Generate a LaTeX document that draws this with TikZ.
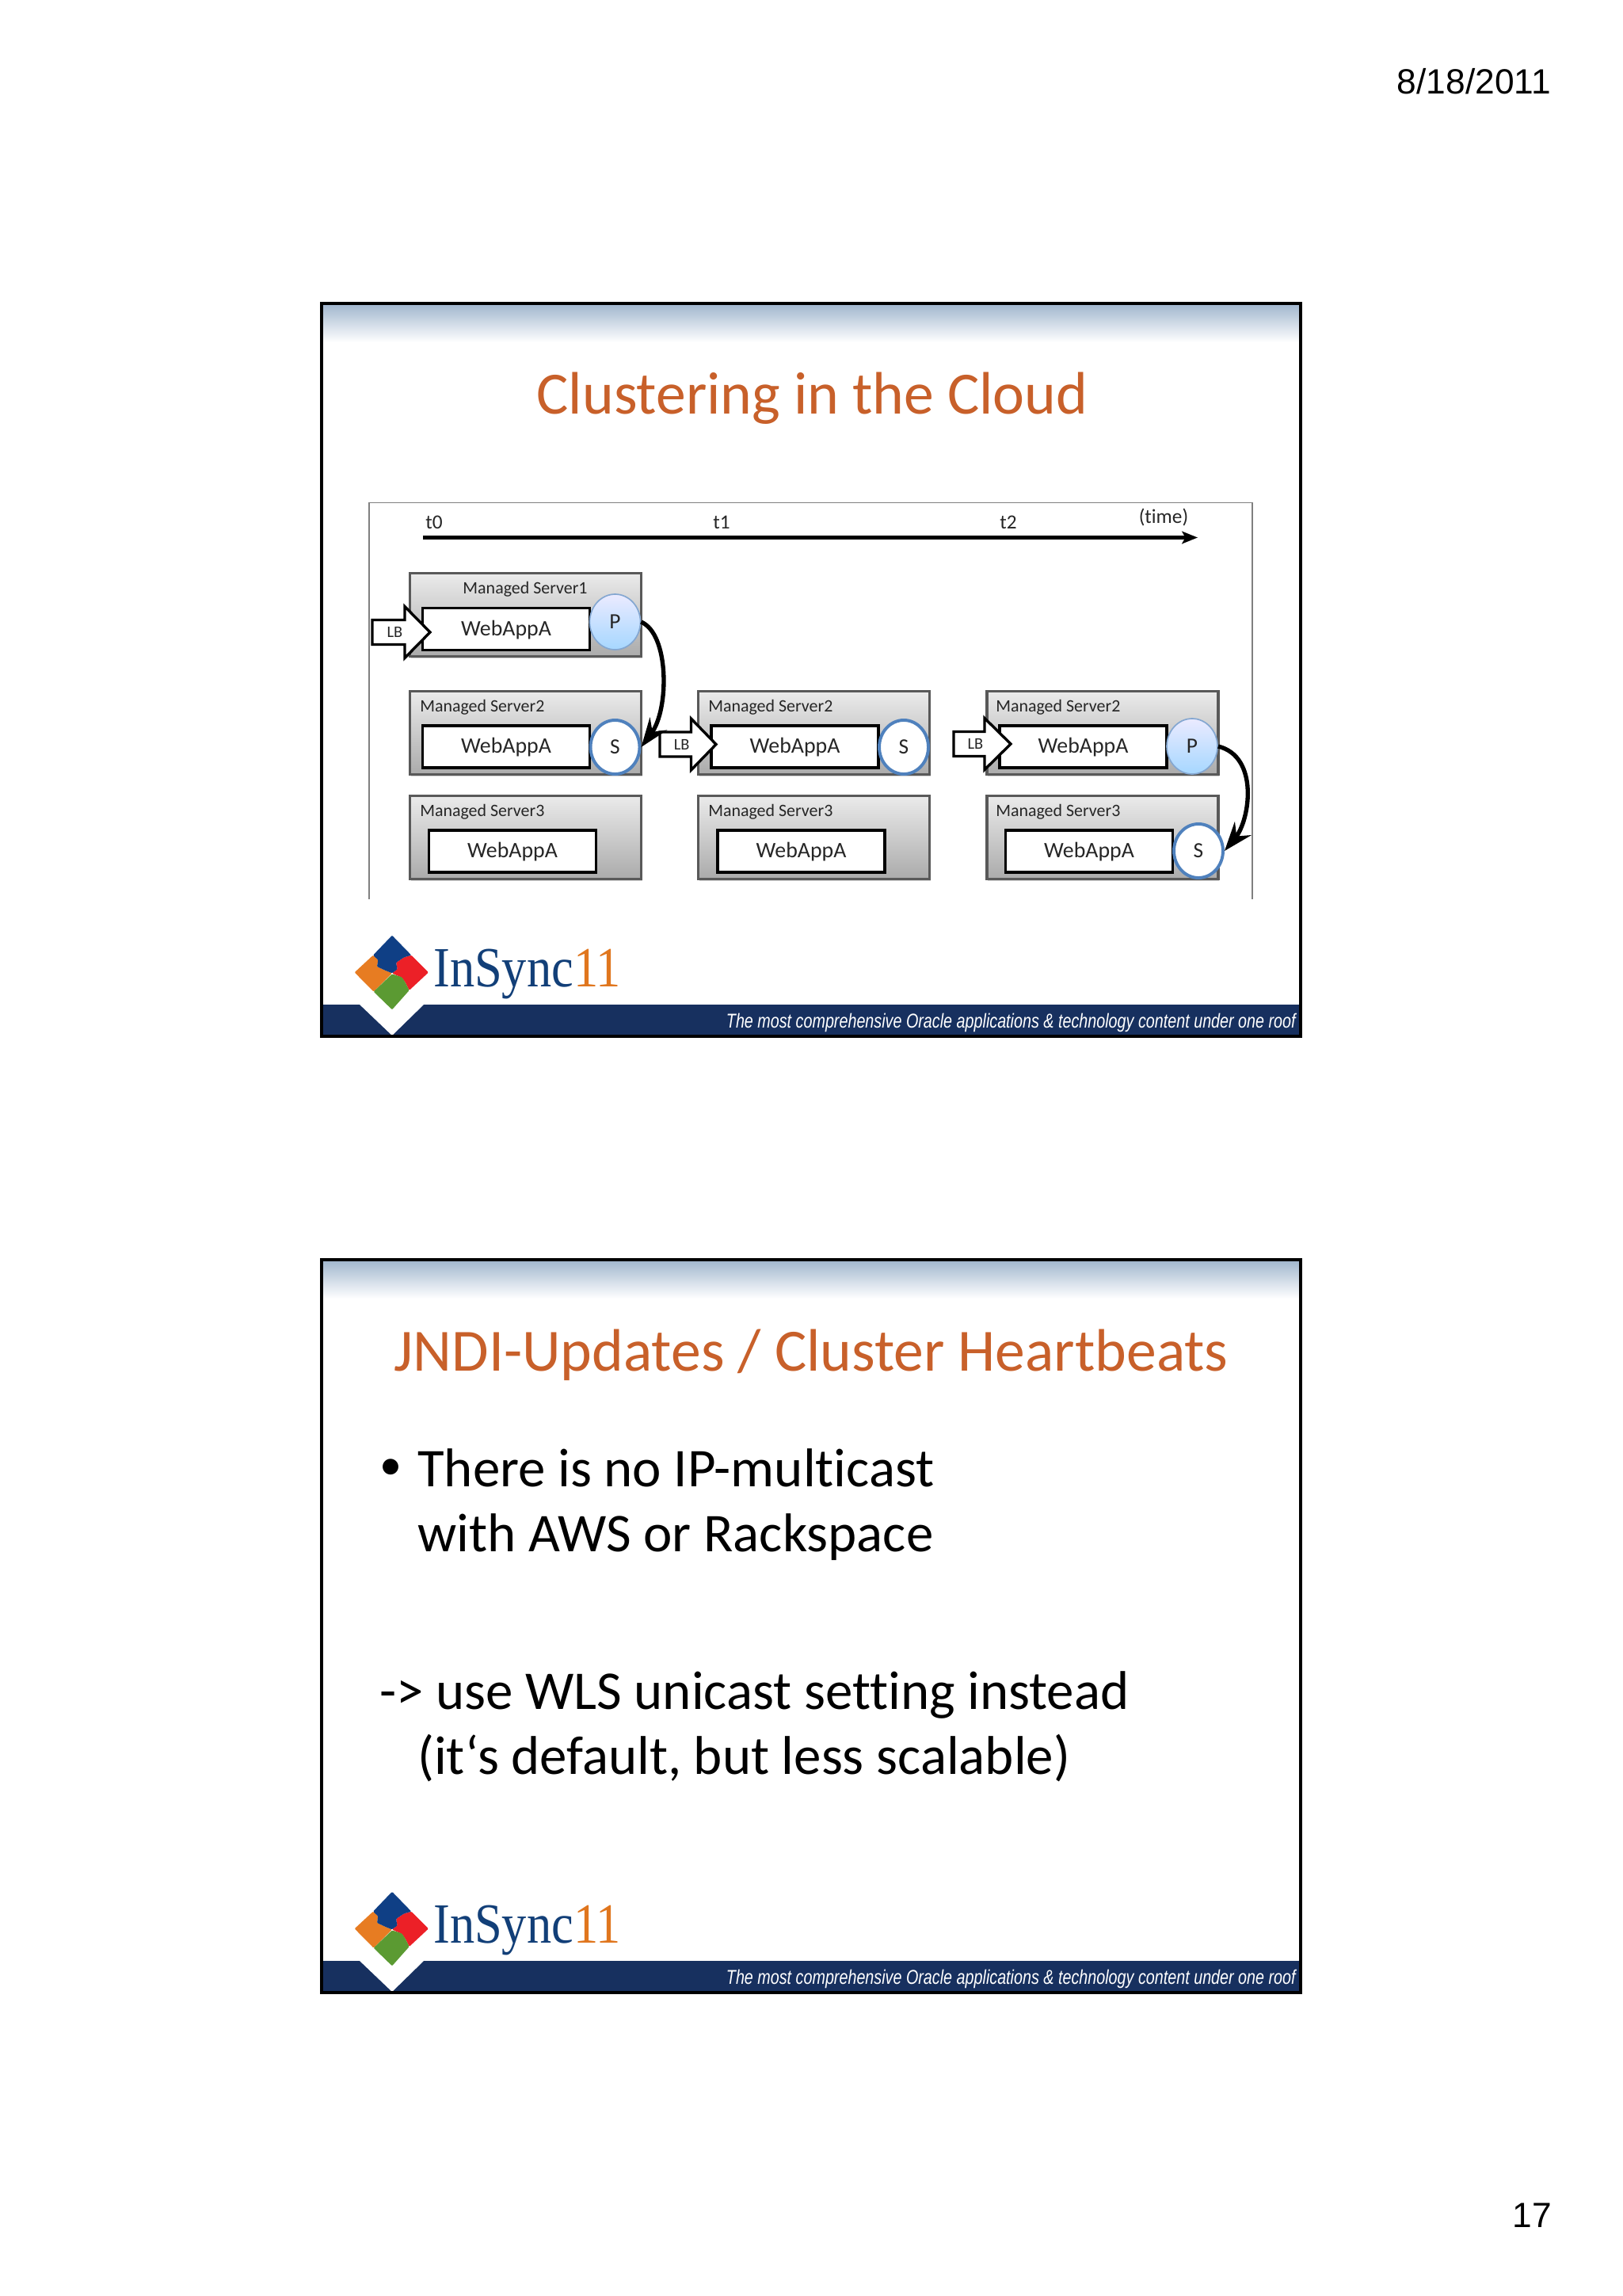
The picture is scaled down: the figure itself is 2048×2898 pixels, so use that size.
\documentclass[tikz,border=0pt]{standalone}
\usepackage{fontspec}
\setmainfont[RawFeature={-liga;-clig}]{Carlito}
\newfontfamily\arialf{Liberation Sans}
\newfontfamily\serifl{Liberation Serif}
\usetikzlibrary{arrows.meta,shadows,shapes.geometric}
\definecolor{titleor}{HTML}{C8602A}
\definecolor{navy}{HTML}{17305F}
\definecolor{bandtop}{HTML}{A3B8CF}
\definecolor{logoblue}{HTML}{0F3F85}
\definecolor{logoor}{HTML}{E77C22}
\definecolor{logored}{HTML}{EC2027}
\definecolor{logogreen}{HTML}{5B9A32}
\definecolor{textnavy}{HTML}{123F78}
\definecolor{elev}{HTML}{E0761E}
\definecolor{ringblue}{HTML}{4F81BD}
\def\pu{0.025cm}
\tikzset{
  x=0.025cm,y=-0.025cm,
  server/.style={draw=black!65,line width=2.4pt,anchor=north west,outer sep=0pt,minimum width=292*\pu,minimum height=105*\pu,inner sep=0pt,
    top color=black!8,bottom color=black!33,drop shadow={shadow xshift=1pt,shadow yshift=-1.5pt,opacity=.35}},
  srvlabel/.style={font=\fontsize{15.6}{18}\selectfont,text=black!85,inner sep=0pt},
  app/.style={draw=black,line width=2.4pt,fill=white,minimum height=53*\pu,inner sep=0pt,text height=15pt,text depth=3pt,font=\fontsize{19.8}{22}\selectfont,text=black!85},
  primary/.style={ellipse,draw=ringblue!70,line width=1.2pt,minimum width=64*\pu,minimum height=70*\pu,inner sep=0pt,
    top color=blue!8!white,bottom color=blue!45!cyan!35!white,font=\fontsize{19.5}{20}\selectfont,text=black!85},
  secondary/.style={ellipse,draw=ringblue,line width=2.8pt,fill=white,minimum width=62*\pu,minimum height=68*\pu,inner sep=0pt,
    font=\fontsize{19.5}{20}\selectfont,text=black!85},
  lbshape/.style={draw=black,line width=2.4pt,fill=white,line join=miter},
  lbtext/.style={font=\fontsize{14.5}{15}\selectfont,text=black!85,inner sep=0pt},
  timetext/.style={font=\fontsize{18}{19}\selectfont,text=black!85,inner sep=0pt},
  failover/.style={draw=black,line width=3.8pt,-{Stealth[length=26pt,width=19pt,inset=9pt]}},
  slidetitle/.style={font=\fontsize{53.8}{58}\selectfont,text=titleor,inner sep=0pt},
  bodytext/.style={font=\fontsize{49}{54}\selectfont,text=black,anchor=base west,inner sep=0pt},
  pagetext/.style={font=\arialf\fontsize{31.5}{36}\selectfont,text=black,anchor=east,inner sep=0pt},
}
\newcommand{\lbarrow}[5]{% name, tail x, shaft x, tip x, mid y
  \draw[lbshape] (#2,#5-15.5) -- (#3,#5-15.5) -- (#3,#5-32.5) -- (#4,#5) -- (#3,#5+32.5) -- (#3,#5+15.5) -- (#2,#5+15.5) -- cycle;
  \node[lbtext] (#1) at ({(#2+#3)/2+8},#5) {LB};
}
\newcommand{\slideframe}[2]{% prefix, y offset
  \begin{scope}[shift={(0,#2)}]
    \shade[top color=bandtop,bottom color=white] (406,385) rectangle (1642,432);
    \fill[navy] (406,1268) rectangle (1642,1306);
    \fill[white] (452,1266) -- (537,1266) -- (495,1307) -- cycle;
    \draw[black,line width=2.8pt] (406,383) rectangle (1642,1308);
    \begin{scope}[shift={(400,1140)},scale=1/3,rounded corners=0.8pt]
      \fill[logoor] (143,262) -- (213,197) -- (232,215) -- (228,240) -- (260,255) -- (285,265) -- (215,335) -- cycle;
      \fill[logored] (358,197) -- (423,262) -- (350,330) -- (335,300) -- (322,282) -- (285,265) -- (305,250) -- (300,225) -- (330,205) -- cycle;
      \fill[logogreen] (285,268) -- (322,280) -- (335,300) -- (350,330) -- (285,403) -- (215,335) -- cycle;
      \fill[logoblue] (285,122) -- (358,197) -- (330,205) -- (300,225) -- (305,250) -- (285,265) -- (260,255) -- (228,240) -- (232,215) -- (213,197) -- cycle;
    \end{scope}
    \node[anchor=base west,inner sep=0pt,font=\serifl\fontsize{51}{54}\selectfont,xscale=.87] (#1logo) at (547,1245) {\textcolor{textnavy}{InSync}\textcolor{elev}{11}};
    \node[anchor=east,inner sep=0pt,text=white,font=\arialf\itshape\fontsize{18}{20}\selectfont,xscale=.78] (#1tag) at (1636,1291) {The most comprehensive Oracle applications \& technology content under one roof};
  \end{scope}
}
\begin{document}
\begin{tikzpicture}
\useasboundingbox (0,0) rectangle (2048,2898);
\fill[white] (0,0) rectangle (2048,2898);
\node[pagetext] (date) at (1958,103) {8/18/2011};
\node[pagetext] (pagenum) at (1959,2796) {17};
\slideframe{a}{0}
\slideframe{b}{1207}
\node[slidetitle] (title1) at (1025.5,503) {Clustering in the Cloud};
\draw[black!50,line width=1pt] (466,1135) -- (466,634.5) -- (1581,634.5) -- (1581,1135);
\coordinate (tstart) at (534,678.5);
\coordinate (tend) at (1512,678.5);
\draw[black,line width=3pt,-{Stealth[length=14pt,width=11pt,inset=3pt]}] (tstart) -- (tend);
\node[timetext] (t0) at (548,659) {t0};
\node[timetext] (t1) at (911,659) {t1};
\node[timetext] (t2) at (1273,659) {t2};
\node[timetext] (timelab) at (1469,653) {(time)};
% servers
\node[server] (m11) at (517.5,723.5) {};
\node[server] (m12) at (517.5,872.5) {};
\node[server] (m13) at (517.5,1004.5) {};
\node[server] (m22) at (881.5,872.5) {};
\node[server] (m23) at (881.5,1004.5) {};
\node[server] (m32) at (1246,872.5) {};
\node[server] (m33) at (1246,1004.5) {};
\node[srvlabel] (l11) at (663,743.5) {Managed Server1};
\node[srvlabel,anchor=west] (l12) at (530,892.5) {Managed Server2};
\node[srvlabel,anchor=west] (l13) at (530,1025) {Managed Server3};
\node[srvlabel,anchor=west] (l22) at (894,892.5) {Managed Server2};
\node[srvlabel,anchor=west] (l23) at (894,1025) {Managed Server3};
\node[srvlabel,anchor=west] (l32) at (1257,892.5) {Managed Server2};
\node[srvlabel,anchor=west] (l33) at (1257,1025) {Managed Server3};
% applications
\node[app,minimum width=211*\pu] (a11) at (639,794) {WebAppA};
\node[app,minimum width=211*\pu] (a12) at (639,942.5) {WebAppA};
\node[app,minimum width=211*\pu] (a13) at (647,1074.5) {WebAppA};
\node[app,minimum width=211*\pu] (a22) at (1003.5,942.5) {WebAppA};
\node[app,minimum width=211*\pu] (a23) at (1011.5,1074.5) {WebAppA};
\node[app,minimum width=211*\pu] (a32) at (1367.5,942.5) {WebAppA};
\node[app,minimum width=211*\pu] (a33) at (1375,1074.5) {WebAppA};
% replica markers
\node[primary] (p11) at (776.5,785) {P};
\node[secondary] (s12) at (776.5,943) {S};
\node[secondary] (s22) at (1141,943) {S};
\node[primary] (p32) at (1505,942) {P};
\node[secondary] (s33) at (1513,1074) {S};
% load balancers
\lbarrow{lb1}{470}{511}{543}{798}
\lbarrow{lb2}{833}{872.5}{904}{939.5}
\lbarrow{lb3}{1204}{1243}{1276}{939}
% failover
\draw[failover] (p11.east) .. controls (845,800) and (845,895) .. (s12.east);
\draw[failover] (p32.east) .. controls (1590,955) and (1578,1035) .. (s33.east);
% slide 2
\node[slidetitle] (title2) at (1024,1710) {JNDI-Updates / Cluster Heartbeats};
\node[bodytext,font=\fontsize{40}{42}\selectfont] (bul) at (479,1867) {•};
\node[bodytext] (b1) at (527,1876) {There is no IP-multicast};
\node[bodytext] (b2) at (527,1958) {with AWS or Rackspace};
\node[bodytext] (b3) at (479,2157) {-> use WLS unicast setting instead};
\node[bodytext] (b4) at (527,2239) {(it‘s default, but less scalable)};
\end{tikzpicture}
\end{document}
